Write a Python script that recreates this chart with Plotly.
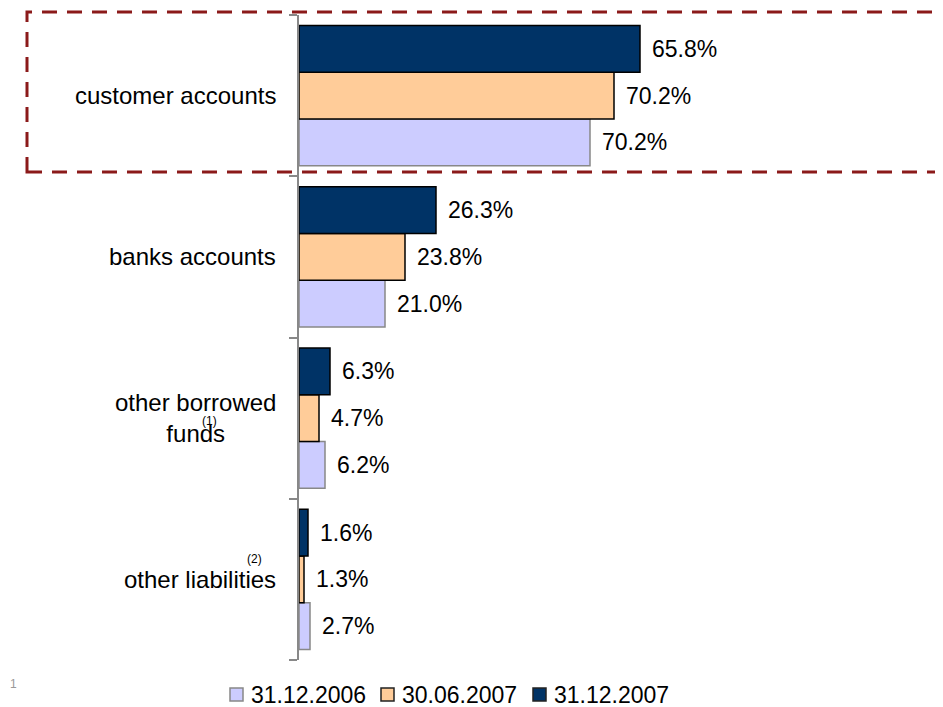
import plotly.graph_objects as go

categories = ["customer accounts", "banks accounts", "other borrowed<br>funds", "other liabilities"]
series_names = ["31.12.2006", "30.06.2007", "31.12.2007"]
# bar lengths (relative units)
len_2006 = [291, 86, 26, 11]
len_2007h = [315, 106, 20, 5]
len_2007 = [341, 137, 31, 9]
# printed percentage labels
lab_2006 = ["70.2%", "21.0%", "6.2%", "2.7%"]
lab_2007h = ["70.2%", "23.8%", "4.7%", "1.3%"]
lab_2007 = ["65.8%", "26.3%", "6.3%", "1.6%"]

colors = ["#CCCCFF", "#FFCC99", "#003366"]
outlines = ["#888888", "#000000", "#000000"]
FONT = "Liberation Sans"
BARGAP = 0.13

# plot area in page pixels (page body has an 8px margin around the figure)
PL, PR, PT, PB = 299, 940, 15, 660


def px(x):
    return (x - PL) / (PR - PL)


def py(y):
    return (PB - y) / (PB - PT)


cat_order = categories[::-1]  # bottom-to-top
fig = go.Figure()
all_vals = [len_2006, len_2007h, len_2007]
all_labs = [lab_2006, lab_2007h, lab_2007]
for name, vals, c, oc in zip(series_names, all_vals, colors, outlines):
    fig.add_trace(go.Bar(
        y=categories, x=vals, orientation="h", name=name,
        marker=dict(color=c, line=dict(color=oc, width=1.5)),
        cliponaxis=False,
    ))

# value labels placed next to each bar
n = len(series_names)
bw = (1 - BARGAP) / n
for k, (vals, labs) in enumerate(zip(all_vals, all_labs)):
    for cat, v, lab in zip(categories, vals, labs):
        idx = cat_order.index(cat)
        yc = idx - (1 - BARGAP) / 2 + bw * (k + 0.5)
        fig.add_annotation(x=v, y=yc, xref="x", yref="y", text=lab, showarrow=False,
                           xanchor="left", yanchor="middle", xshift=10,
                           font=dict(size=23, color="black", family=FONT))

# category labels (centered multi-line, right-anchored)
for cat in categories:
    fig.add_annotation(x=px(278), y=cat, xref="paper", yref="y", text=cat, showarrow=False,
                       xanchor="right", yanchor="middle", align="center",
                       font=dict(size=24, color="black", family=FONT))

fig.update_layout(
    width=935, height=699,
    margin=dict(l=PL - 8, r=935 - (PR - 8), t=PT - 8, b=699 - (PB - 8)),
    paper_bgcolor="white", plot_bgcolor="white",
    barmode="group", bargap=BARGAP, bargroupgap=0,
    font=dict(family=FONT, size=23, color="black"),
    showlegend=False,
    xaxis=dict(range=[0, 641], visible=False, showgrid=False, zeroline=False),
    yaxis=dict(categoryorder="array", categoryarray=cat_order, automargin=False,
               showline=True, linecolor="#888888", linewidth=2,
               ticks="outside", tickson="boundaries", ticklen=8, tickcolor="#888888", tickwidth=2,
               showgrid=False, showticklabels=False),
)

# legend drawn below the plot
legend_x = [230, 381, 533]
for name, c, oc, lx in zip(series_names, colors, outlines, legend_x):
    fig.add_shape(type="rect", xref="paper", yref="paper",
                  x0=px(lx), x1=px(lx + 13), y0=py(701), y1=py(688),
                  line=dict(color=oc if oc != "#000000" else "#222222", width=1.5), fillcolor=c)
    fig.add_annotation(text=name, xref="paper", yref="paper", x=px(lx + 19), y=py(695),
                       xanchor="left", yanchor="middle", showarrow=False,
                       font=dict(size=23, color="black", family=FONT))

fig.add_shape(type="rect", xref="paper", yref="paper",
              x0=px(27), x1=px(937), y0=py(172), y1=py(12),
              line=dict(color="#8B1A1A", width=3, dash="15px,10px"), fillcolor="rgba(0,0,0,0)")

fig.add_annotation(text="(1)", xref="paper", yref="paper", x=px(209), y=py(421),
                   xanchor="center", yanchor="middle",
                   showarrow=False, font=dict(size=12, color="black", family=FONT))
fig.add_annotation(text="(2)", xref="paper", yref="paper", x=px(254), y=py(559),
                   xanchor="center", yanchor="middle",
                   showarrow=False, font=dict(size=12, color="black", family=FONT))
fig.add_annotation(text="1", xref="paper", yref="paper", x=px(8), y=py(684),
                   xanchor="left", yanchor="middle",
                   showarrow=False, font=dict(size=12, color="#999999", family=FONT))

fig.write_html("out.html")
